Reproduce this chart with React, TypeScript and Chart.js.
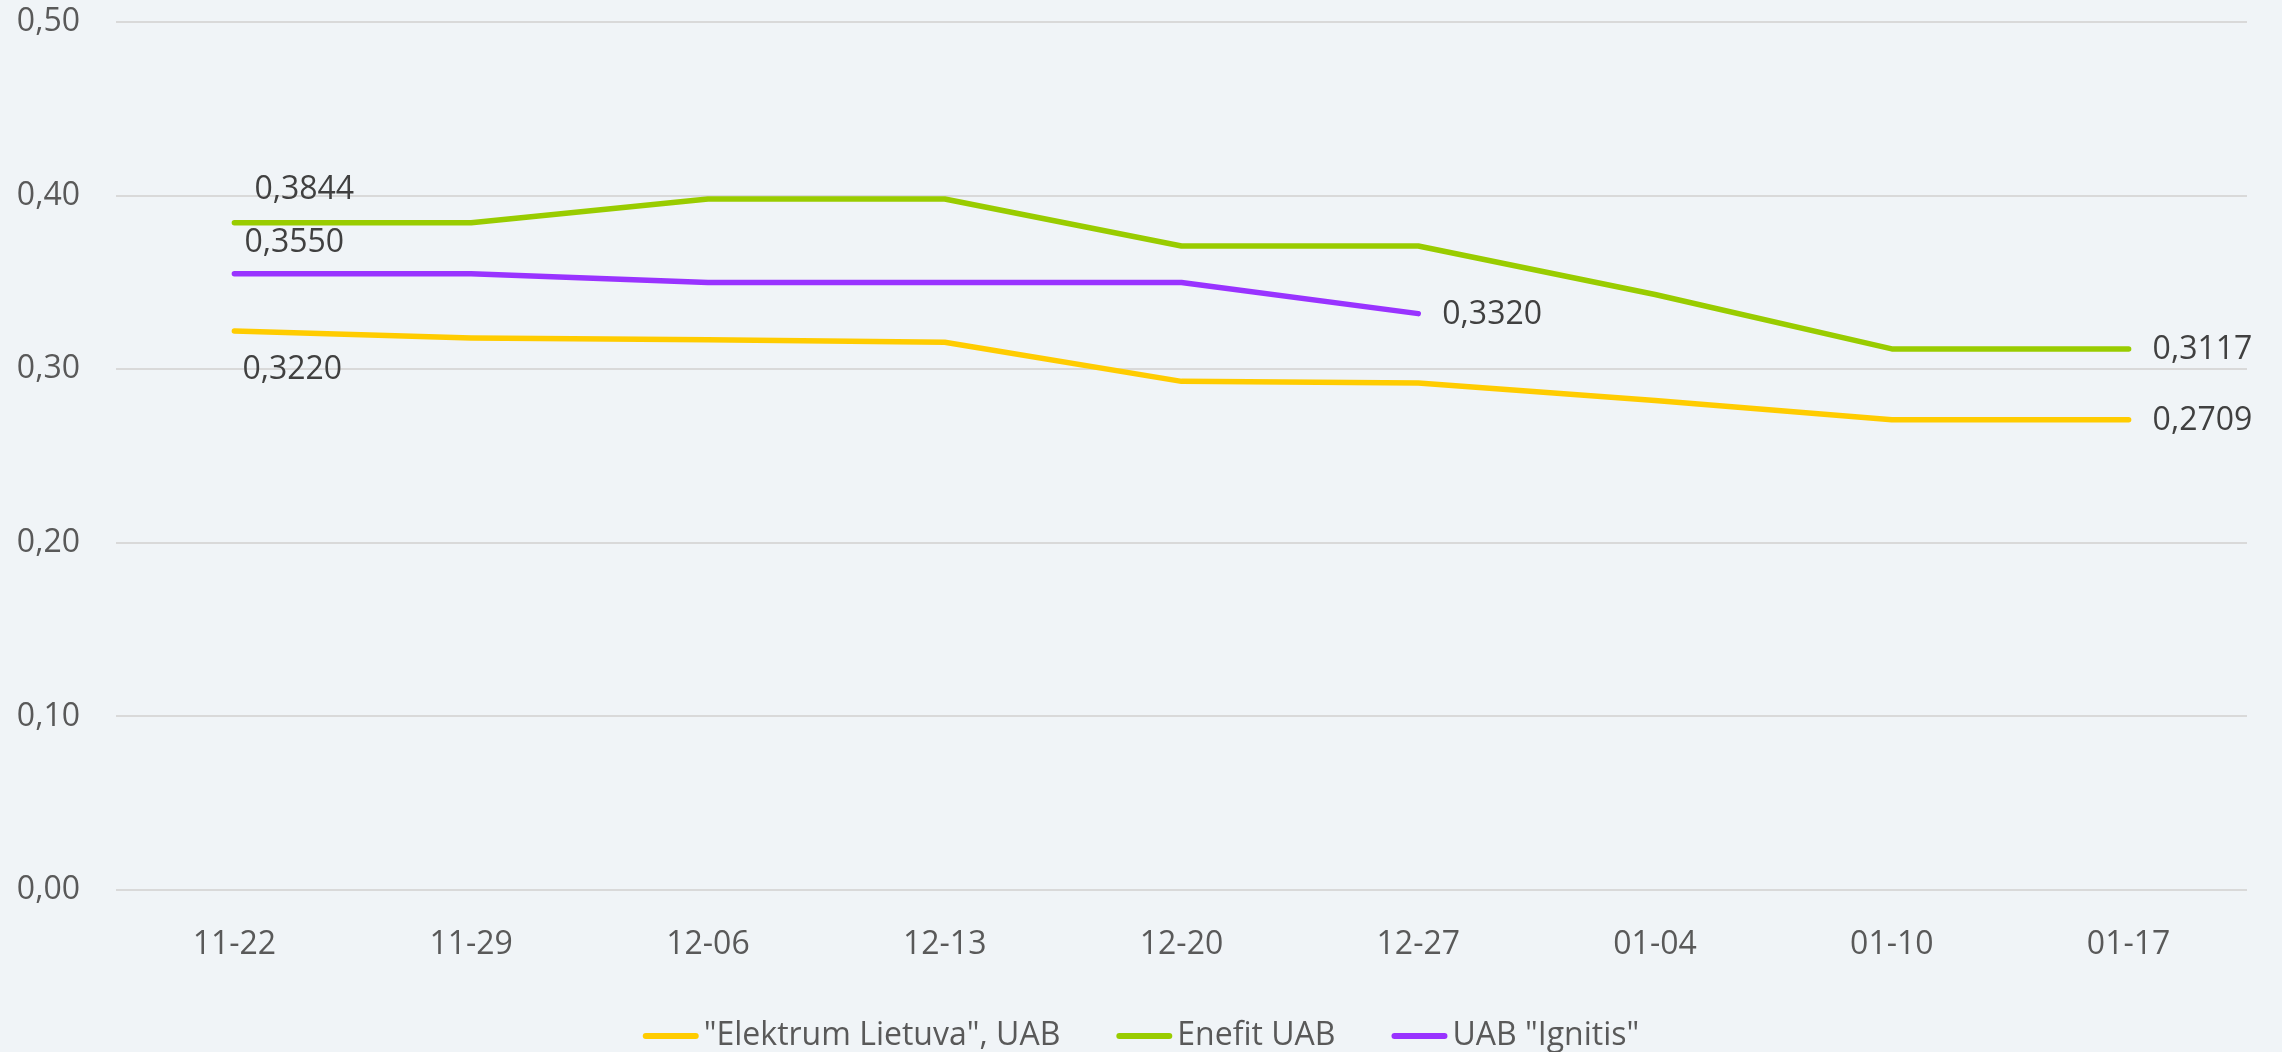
import React, { useEffect, useRef } from 'react';
import { Chart, registerables } from 'chart.js';

Chart.register(...registerables);

const categories = ['11-22', '11-29', '12-06', '12-13', '12-20', '12-27', '01-04', '01-10', '01-17'];
const elektrumValues = [0.322, 0.318, 0.317, 0.3155, 0.293, 0.292, 0.282, 0.2709, 0.2709];
const enefitValues = [0.3844, 0.3844, 0.398, 0.398, 0.371, 0.371, 0.343, 0.3117, 0.3117];
const ignitisValues = [0.355, 0.355, 0.35, 0.35, 0.35, 0.332, null, null, null];
const seriesNames = ['"Elektrum Lietuva", UAB', 'Enefit UAB', 'UAB "Ignitis"'];
const seriesColors = ['#FFCC00', '#99CC00', '#9933FF'];
const yMin = 0;
const yMax = 0.5;
const yStep = 0.1;

const FONT = '"Open Sans", sans-serif';
const FONT_SIZE = 32;
const BG = '#F0F4F7';

const fmt = (v: number, d: number) => v.toFixed(d).replace('.', ',');

// offsets for first/last data labels per dataset (styling)
const firstLabelOffsets = [
  { dx: 8, dy: 39 },
  { dx: 20, dy: -33 },
  { dx: 10, dy: -31 },
];
const lastLabelOffset = { dx: 24, dy: 1 };

const bgPlugin = {
  id: 'bgFill',
  beforeDraw(chart: any) {
    const ctx = chart.ctx;
    ctx.save();
    ctx.fillStyle = BG;
    ctx.fillRect(0, 0, chart.width, chart.height);
    ctx.restore();
  },
};

const labelPlugin = {
  id: 'endLabels',
  afterDatasetsDraw(chart: any) {
    const ctx = chart.ctx;
    ctx.save();
    ctx.font = `${FONT_SIZE}px ${FONT}`;
    ctx.fillStyle = '#404040';
    ctx.textAlign = 'left';
    ctx.textBaseline = 'middle';
    chart.data.datasets.forEach((ds: any, i: number) => {
      const meta = chart.getDatasetMeta(i);
      const idx: number[] = [];
      ds.data.forEach((v: any, j: number) => {
        if (v !== null && v !== undefined) idx.push(j);
      });
      if (!idx.length) return;
      const first = idx[0];
      const last = idx[idx.length - 1];
      const p0 = meta.data[first];
      const o = firstLabelOffsets[i];
      ctx.fillText(fmt(ds.data[first], 4), p0.x + o.dx, p0.y + o.dy);
      const p1 = meta.data[last];
      ctx.fillText(fmt(ds.data[last], 4), p1.x + lastLabelOffset.dx, p1.y + lastLabelOffset.dy);
    });
    ctx.restore();
  },
};

const legendPlugin = {
  id: 'customLegend',
  afterDraw(chart: any) {
    const ctx = chart.ctx;
    ctx.save();
    ctx.font = `${FONT_SIZE}px ${FONT}`;
    const lineW = 56;
    const gap = 5;
    const itemGap = 56;
    const widths = seriesNames.map((n) => ctx.measureText(n).width);
    const total = widths.reduce((a, w) => a + lineW + gap + w, 0) + itemGap * (seriesNames.length - 1);
    let x = chart.width / 2 - total / 2;
    const y = 1036;
    seriesNames.forEach((n, i) => {
      ctx.strokeStyle = seriesColors[i];
      ctx.lineWidth = 6;
      ctx.lineCap = 'round';
      ctx.beginPath();
      ctx.moveTo(x + 3, y);
      ctx.lineTo(x + lineW - 3, y);
      ctx.stroke();
      ctx.fillStyle = '#595959';
      ctx.textAlign = 'left';
      ctx.textBaseline = 'middle';
      ctx.fillText(n, x + lineW + gap, y);
      x += lineW + gap + widths[i] + itemGap;
    });
    ctx.restore();
  },
};

export default function App() {
  const ref = useRef<HTMLCanvasElement>(null);

  useEffect(() => {
    if (!ref.current) return;
    const values = [elektrumValues, enefitValues, ignitisValues];
    const chart = new Chart(ref.current, {
      type: 'line',
      data: {
        labels: categories,
        datasets: seriesNames.map((name, i) => ({
          label: name,
          data: values[i],
          borderColor: seriesColors[i],
          backgroundColor: seriesColors[i],
          borderWidth: 5.5,
          borderCapStyle: 'round',
          borderJoinStyle: 'round',
          pointRadius: 0,
          pointHoverRadius: 0,
          tension: 0,
          fill: false,
        })),
      },
      options: {
        responsive: false,
        animation: false,
        events: [],
        layout: { padding: { top: 22, right: 35, left: 0, bottom: 0 } },
        plugins: {
          legend: { display: false },
          tooltip: { enabled: false },
          title: { display: false },
        },
        scales: {
          x: {
            type: 'category',
            offset: true,
            grid: { display: false, drawTicks: false },
            border: { display: false },
            ticks: {
              color: '#595959',
              font: { family: FONT, size: FONT_SIZE },
              padding: 36,
              maxRotation: 0,
              autoSkip: false,
            },
            afterFit(scale: any) {
              scale.height = 162;
              scale.paddingLeft = 0;
              scale.paddingRight = 0;
            },
          },
          y: {
            min: yMin,
            max: yMax,
            grid: { color: '#D9D9D9', lineWidth: 2, drawTicks: false },
            border: { display: false },
            ticks: {
              stepSize: yStep,
              color: '#595959',
              font: { family: FONT, size: FONT_SIZE },
              padding: 36,
              callback: (v: any) => fmt(Number(v), 2),
            },
            afterFit(scale: any) {
              scale.width = 116;
              scale.paddingTop = 0;
              scale.paddingBottom = 0;
            },
          },
        },
      },
      plugins: [bgPlugin, labelPlugin, legendPlugin],
    } as any);
    return () => chart.destroy();
  }, []);

  return (
    <div style={{ position: 'fixed', left: 0, top: 0, width: 2282, height: 1052, background: BG }}>
      <canvas ref={ref} width={2282} height={1052} style={{ display: 'block' }} />
    </div>
  );
}
